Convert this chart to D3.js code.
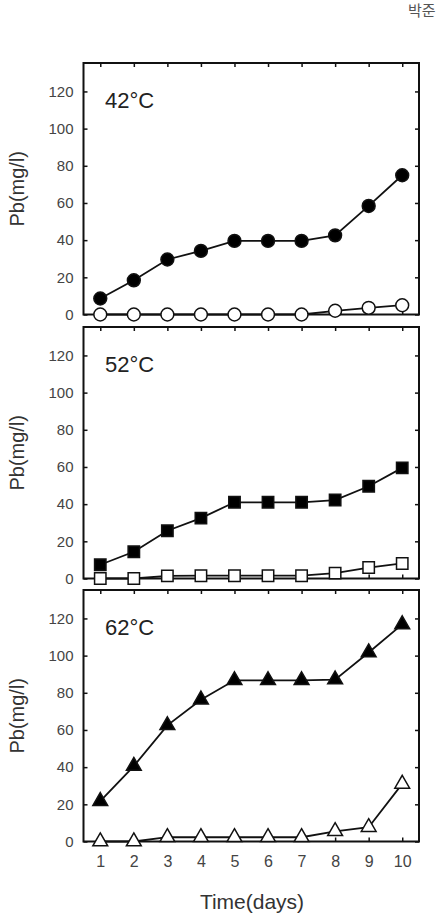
<!DOCTYPE html>
<html lang="ko">
<head>
    <meta charset="UTF-8">
    <title>Pb release over time</title>
    <style>
        body { margin: 0; background: #fff; }
        svg { display: block; }
        text { font-family: "Liberation Sans", Arial, sans-serif; fill: #333; }
    </style>
</head>
<body>
    <div id="chart"></div>

    <script src="https://d3js.org/d3.v7.min.js"></script>
    <script>
        // data
        const days = [1, 2, 3, 4, 5, 6, 7, 8, 9, 10];
        const yTicks = [0, 20, 40, 60, 80, 100, 120];
        const temps = ['42°C', '52°C', '62°C'];
        const filled42 = [8.6, 18.4, 29.6, 34.2, 39.6, 39.6, 39.6, 42.6, 58.4, 74.9];
        const open42   = [0, 0, 0, 0, 0, 0, 0, 2.0, 3.6, 5.0];
        const filled52 = [7.4, 14.4, 25.7, 32.5, 41.0, 41.0, 41.0, 42.2, 49.6, 59.5];
        const open52   = [0, 0, 1.4, 1.5, 1.5, 1.5, 1.5, 2.9, 5.9, 8.1];
        const filled62 = [21.7, 40.6, 62.5, 76.3, 86.7, 86.7, 86.7, 87.1, 101.7, 116.8];
        const open62   = [0, 0, 2.3, 2.3, 2.3, 2.3, 2.3, 5.5, 7.7, 31.0];

        const w = 445;
        const h = 917;
        const left = 83.5, right = 419;
        const panelTops = [63, 327, 590];
        const panelH = 251.5;

        const panels = [
            { label: temps[0], filled: filled42, open: open42, shape: d3.symbolCircle, size: 130 },
            { label: temps[1], filled: filled52, open: open52, shape: d3.symbolSquare, size: 130 },
            { label: temps[2], filled: filled62, open: open62, shape: d3.symbolTriangle, size: 95 }
        ];

        const svg = d3.select('#chart')
            .append('svg')
            .attr('width', w)
            .attr('height', h);

        // header text in the corner
        svg.append('text')
            .attr('x', 408)
            .attr('y', 16)
            .style('font-family', '"Noto Sans CJK KR", sans-serif')
            .style('font-size', '15px')
            .style('fill', '#555')
            .text('박준');

        const xScale = d3.scaleLinear()
            .domain([0.5, 10.5])
            .range([left, right]);

        panels.forEach((p, i) => {
            const top = panelTops[i];
            const bottom = top + panelH;
            const yScale = d3.scaleLinear()
                .domain([0, 135.3])
                .range([bottom, top]);

            const g = svg.append('g');

            // inward ticks on all four sides
            const axLeft = g.append('g')
                .attr('transform', `translate(${left},0)`)
                .call(d3.axisLeft(yScale).tickValues(yTicks).tickSize(-4).tickPadding(10));
            const axRight = g.append('g')
                .attr('transform', `translate(${right},0)`)
                .call(d3.axisRight(yScale).tickValues(yTicks).tickSize(-4).tickFormat(''));
            const axTop = g.append('g')
                .attr('transform', `translate(0,${top})`)
                .call(d3.axisTop(xScale).tickValues(days).tickSize(-4).tickFormat(''));
            const axBottom = g.append('g')
                .attr('transform', `translate(0,${bottom})`)
                .call(d3.axisBottom(xScale).tickValues(days).tickSize(-4).tickPadding(14)
                    .tickFormat(i === 2 ? d3.format('d') : ''));

            [axLeft, axRight, axTop, axBottom].forEach(ax => {
                ax.select('.domain').remove();
                ax.selectAll('line').attr('stroke', '#111').attr('stroke-width', 1.5);
                ax.selectAll('text')
                    .style('font-size', '15px')
                    .style('fill', '#444')
                    .style('font-family', '"Liberation Sans", Arial, sans-serif');
            });
            axBottom.selectAll('text').style('font-size', '16px');

            g.append('rect')
                .attr('x', left)
                .attr('y', top)
                .attr('width', right - left)
                .attr('height', panelH)
                .attr('fill', 'none')
                .attr('stroke', '#111')
                .attr('stroke-width', 2);

            g.append('text')
                .attr('x', 105)
                .attr('y', top + 45)
                .style('font-size', '22px')
                .style('fill', '#222')
                .text(p.label);

            g.append('text')
                .attr('transform', `translate(24,${(top + bottom) / 2}) rotate(-90)`)
                .attr('text-anchor', 'middle')
                .style('font-size', '20px')
                .style('fill', '#333')
                .text('Pb(mg/l)');

            const line = d3.line()
                .x((d, k) => xScale(days[k]))
                .y(d => yScale(d));

            const sym = d3.symbol().type(p.shape).size(p.size);

            [['open', '#fff'], ['filled', '#000']].forEach(([key, fill]) => {
                g.append('path')
                    .datum(p[key])
                    .attr('d', line)
                    .attr('fill', 'none')
                    .attr('stroke', '#111')
                    .attr('stroke-width', 1.8);

                g.selectAll(`.pt-${key}`)
                    .data(p[key])
                    .enter()
                    .append('path')
                    .attr('class', `pt-${key}`)
                    .attr('d', sym)
                    .attr('transform', (d, k) => `translate(${xScale(days[k])},${yScale(d)})`)
                    .attr('fill', fill)
                    .attr('stroke', '#111')
                    .attr('stroke-width', 1.5);
            });
        });

        svg.append('text')
            .attr('x', 252)
            .attr('y', 909)
            .attr('text-anchor', 'middle')
            .style('font-size', '21px')
            .style('fill', '#333')
            .text('Time(days)');
    </script>
</body>
</html>
